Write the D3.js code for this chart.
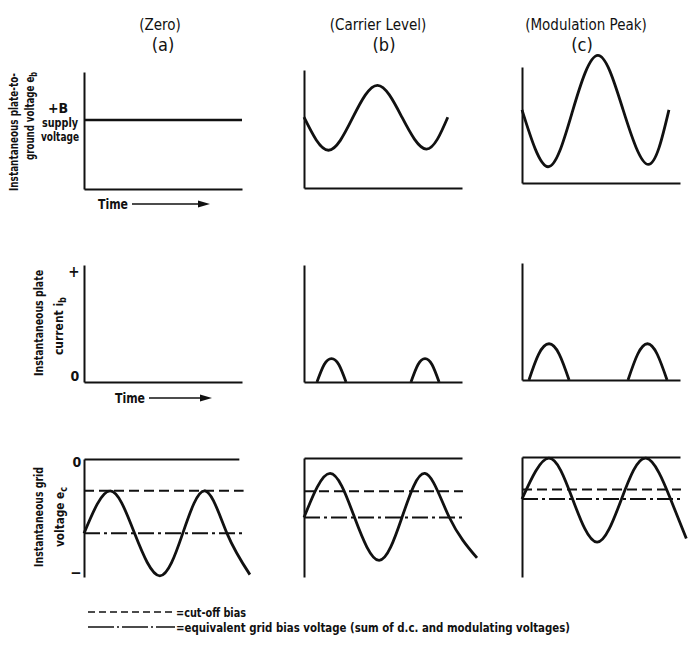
<!DOCTYPE html>
<html>
<head>
<meta charset="utf-8">
<script src="https://cdn.jsdelivr.net/npm/d3@7"></script>
<style>
  body { margin: 0; background: #fff; }
  svg text { font-family: "DejaVu Sans Condensed", "Liberation Sans Narrow", sans-serif; font-stretch: condensed; fill: #111; }
  svg text.heavy { font-weight: bold; }
</style>
</head>
<body>
<svg id="chart" width="688" height="649"></svg>
<script>
// column headings
const columnTitles = ["(Zero)", "(Carrier Level)", "(Modulation Peak)"];
const columnLetters = ["(a)", "(b)", "(c)"];

// row 1: plate-to-ground voltage e_b, [time, volts], 0 = ground, 100 = top of axis
const supplyVoltage = 59;
const plateVoltageB = [[0, 60], [15.5, 32], [31, 60], [46.5, 87], [62, 60], [77.5, 33], [91, 60]];
const plateVoltageC = [[0, 63], [16.5, 14], [32, 62], [48, 110], [64, 63], [80, 16], [93, 63]];

// row 2: plate current i_b pulses, 0 = no current
const plateCurrentB = [
  [[8.2, 0], [12.8, 15], [17.4, 20], [22, 15], [26.6, 0]],
  [[67.7, 0], [72.2, 15], [76.6, 20], [81, 15], [85.5, 0]]
];
const plateCurrentC = [
  [[4.4, 0], [10.5, 22], [17.1, 31], [23.6, 22], [29.8, 0]],
  [[67.1, 0], [73.2, 22], [79.4, 31], [85.6, 22], [91.8, 0]]
];

// row 3: grid voltage e_c, 0 = top, -100 = most negative
const cutoffBias = [-27, -28, -27];
const gridBias = [-63, -50, -35];
const biasLineEnd = [101, 102.5, 100];
const gridVoltageA = [[0, -63], [16.5, -27], [32, -63], [48, -99], [62.5, -63], [76.5, -27], [90.5, -63], [105, -98]];
const gridVoltageB = [[0, -50], [16.5, -13], [32, -50], [47.5, -86], [62, -50], [76.5, -13], [92, -50], [109.5, -84]];
const gridVoltageC = [[0, -35], [17, -1], [32, -35], [47.5, -71], [63, -35], [78.5, -1], [94, -35], [104, -68]];

const legendItems = ["=cut-off bias", "=equivalent grid bias voltage (sum of d.c. and modulating voltages)"];

const svg = d3.select("#chart");

const colLeft = [84, 304, 522];
const panelW = 158;
const rows = [
  { top: [72, 70, 67], bottom: [189, 188, 183] },
  { top: [265, 265, 263], bottom: [382, 382, 380] },
  { top: [459, 458, 457], bottom: [577, 577, 577] }
];

const line = d3.line().x(d => d.x).y(d => d.y).curve(d3.curveNatural);

function scales(r, c, domainY) {
  const x = d3.scaleLinear().domain([0, 100]).range([colLeft[c], colLeft[c] + panelW]);
  const y = d3.scaleLinear().domain(domainY).range([rows[r].bottom[c], rows[r].top[c]]);
  return { x, y };
}

function drawCurve(s, pts, width) {
  svg.append("path")
    .datum(pts.map(p => ({ x: s.x(p[0]), y: s.y(p[1]) })))
    .attr("fill", "none")
    .attr("stroke", "#111")
    .attr("stroke-width", width || 2.8)
    .attr("stroke-linejoin", "round")
    .attr("d", line);
}

function leftAxis(s) {
  svg.append("g")
    .attr("transform", "translate(" + s.x(0) + ",0)")
    .call(d3.axisLeft(s.y).tickValues([]).tickSizeOuter(0))
    .select(".domain").attr("stroke", "#111").attr("stroke-width", 2);
}

function hAxis(s, atValue, end) {
  const xs = s.x.copy().domain([0, end || 100]).range([s.x(0), s.x(end || 100)]);
  svg.append("g")
    .attr("transform", "translate(0," + s.y(atValue) + ")")
    .call(d3.axisBottom(xs).tickValues([]).tickSizeOuter(0))
    .select(".domain").attr("stroke", "#111").attr("stroke-width", 2.2);
}

function hLine(s, value, end, dash, width) {
  return svg.append("line")
    .attr("x1", s.x(0)).attr("x2", s.x(end))
    .attr("y1", s.y(value)).attr("y2", s.y(value))
    .attr("stroke", "#111").attr("stroke-width", width || 2)
    .attr("stroke-dasharray", dash);
}

const dashCut = "10,5";
const dashBias = "16,4,3,4";

// headings
columnTitles.forEach((t, i) => {
  svg.append("text").attr("x", [160, 378, 586][i]).attr("y", 30).attr("text-anchor", "middle")
    .style("font-size", "15px").text(t);
  svg.append("text").attr("x", [163, 384, 582][i]).attr("y", 51).attr("text-anchor", "middle")
    .style("font-size", "18px").text(columnLetters[i]);
});

// ---- row 1: plate voltage
const plateSets = [null, plateVoltageB, plateVoltageC];
for (let c = 0; c < 3; c++) {
  const s = scales(0, c, [0, 100]);
  leftAxis(s);
  hAxis(s, 0);
  if (c === 0) hLine(s, supplyVoltage, 100, null, 2.6);
  else drawCurve(s, plateSets[c]);
}

// ---- row 2: plate current
const currentSets = [null, plateCurrentB, plateCurrentC];
for (let c = 0; c < 3; c++) {
  const s = scales(1, c, [0, 100]);
  leftAxis(s);
  hAxis(s, 0);
  if (currentSets[c]) currentSets[c].forEach(p => drawCurve(s, p));
}

// ---- row 3: grid voltage
const gridSets = [gridVoltageA, gridVoltageB, gridVoltageC];
for (let c = 0; c < 3; c++) {
  const s = scales(2, c, [-100, 0]);
  leftAxis(s);
  hAxis(s, 0, c === 0 ? 98 : 100);
  hLine(s, cutoffBias[c], c === 0 ? 101 : 100.6, dashCut);
  hLine(s, gridBias[c], biasLineEnd[c], dashBias);
  drawCurve(s, gridSets[c]);
}

// ---- axis annotations
function label(x, y, txt, size, anchor) {
  return svg.append("text").attr("class", "heavy").attr("x", x).attr("y", y).attr("dy", "0.35em")
    .attr("text-anchor", anchor || "middle").style("font-size", (size || 13) + "px").text(txt);
}
label(58, 108, "+B", 14);
label(60, 122, "supply", 13).attr("textLength", 36).attr("lengthAdjust", "spacingAndGlyphs");
label(60, 136, "voltage", 13).attr("textLength", 38).attr("lengthAdjust", "spacingAndGlyphs");
label(74, 272, "+", 15);
label(75, 376, "0", 14);
label(77, 462, "0", 14);
label(76, 573, "\u2212", 15);

function vLabel(x, y, main, sub, len) {
  const t = svg.append("text")
    .attr("class", "heavy")
    .attr("transform", "translate(" + x + "," + y + ") rotate(-90)")
    .attr("dy", "0.35em")
    .attr("text-anchor", "middle")
    .style("font-size", "13px");
  t.append("tspan").text(main);
  if (sub) t.append("tspan").attr("dy", "0.3em").style("font-size", "10px").text(sub);
  if (len) t.attr("textLength", len).attr("lengthAdjust", "spacingAndGlyphs");
  return t;
}
vLabel(13, 132, "Instantaneous plate-to-", null, 118);
vLabel(29, 116, "ground voltage e", "b", 88);
vLabel(38, 323, "Instantaneous plate", null, 106);
vLabel(58, 326, "current i", "b", 58);
vLabel(38, 517, "Instantaneous grid", null, 100);
vLabel(59, 517, "voltage e", "c", 60);

// Time arrows
function timeArrow(x, y, x2) {
  label(x, y, "Time", 14, "start").attr("textLength", 30).attr("lengthAdjust", "spacingAndGlyphs");
  svg.append("line").attr("x1", x + 34).attr("x2", x2 - 8).attr("y1", y).attr("y2", y)
    .attr("stroke", "#111").attr("stroke-width", 1.6);
  svg.append("path")
    .attr("d", d3.line()([[x2 - 12, y - 3.5], [x2, y], [x2 - 12, y + 3.5]]) + "Z")
    .attr("fill", "#111");
}
timeArrow(98, 204, 210);
timeArrow(115, 398, 212);

// legend
const legendY = [612, 627];
const legendDash = ["7,4", "26,3,2,3"];
legendItems.forEach((t, i) => {
  svg.append("line").attr("x1", 88).attr("x2", 175)
    .attr("y1", legendY[i]).attr("y2", legendY[i])
    .attr("stroke", "#111").attr("stroke-width", 1.6)
    .attr("stroke-dasharray", legendDash[i]);
  const tx = label(176, legendY[i], t, 13, "start");
  tx.attr("textLength", i === 1 ? 394 : 70).attr("lengthAdjust", "spacingAndGlyphs");
});
</script>
</body>
</html>
